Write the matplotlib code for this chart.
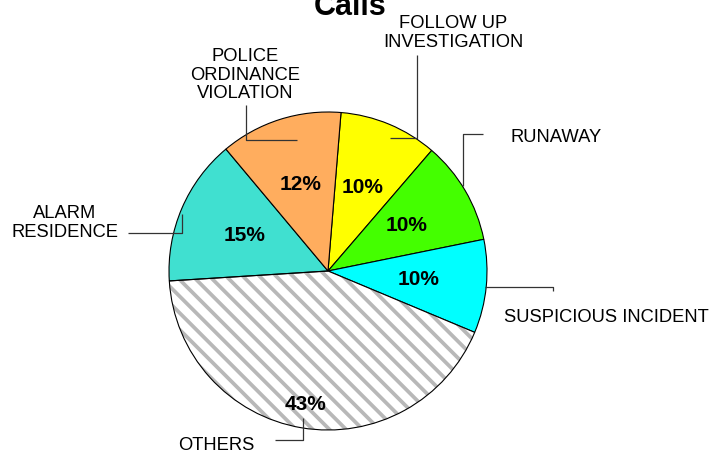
import numpy as np
import matplotlib
matplotlib.use("Agg")
import matplotlib.pyplot as plt
from matplotlib.patches import Wedge

plt.rcParams['font.family'] = ['Liberation Sans', 'DejaVu Sans']
plt.rcParams['hatch.linewidth'] = 2.7

# ---- data ----
categories = ["FOLLOW UP\nINVESTIGATION", "RUNAWAY", "SUSPICIOUS INCIDENT",
              "OTHERS", "ALARM\nRESIDENCE", "POLICE\nORDINANCE\nVIOLATION"]
values = [10.0, 10.5, 9.5, 42.7, 14.9, 12.4]
colors = ["#FFFF00", "#44FF00", "#00FFFF", "#FFFFFF", "#40E0D0", "#FFAD5E"]
title = "Calls"

W, H = 712, 453
fig = plt.figure(figsize=(W / 100, H / 100), dpi=100)
ax = fig.add_axes([0, 0, 1, 1])

def Y(py):
    return H - py

cx, cy, R = 328, Y(271), 159
wedges, texts, autotexts = ax.pie(
    values, colors=colors, startangle=85.3, counterclock=False,
    center=(cx, cy), radius=R, autopct='%.0f%%', pctdistance=0.57,
    wedgeprops=dict(edgecolor='black', linewidth=0.8),
    textprops=dict(fontsize=15, fontweight='bold', color='black'), frame=True)
ax.set_xlim(0, W)
ax.set_ylim(0, H)
ax.set_aspect('equal')
ax.axis('off')

# hatched "others" slice
ow = wedges[3]
ow.set_hatch('\\' * 2)
ow.set_edgecolor('#B8B8B8')
ow.set_linewidth(0)
ax.add_patch(Wedge(ow.center, ow.r, ow.theta1, ow.theta2, fill=False,
                   edgecolor='black', linewidth=0.8, zorder=ow.get_zorder() + 0.1))
mid = np.deg2rad((ow.theta1 + ow.theta2) / 2)
autotexts[3].set_position((cx + 0.85 * R * np.cos(mid), cy + 0.85 * R * np.sin(mid)))
autotexts[3].set_zorder(5)

# category labels with elbow leader lines
lab_fs = 13.2
lc = '#333333'
label_pos = [(453, 33), (556, 137), (606, 317), (216, 445), (65, 223), (245, 75)]
leaders = [
    [(390, 138), (417, 138), (417, 55)],
    [(463, 186), (463, 134), (483, 134)],
    [(485, 287), (553, 287), (553, 291)],
    [(275, 440), (303, 440), (303, 418)],
    [(128, 233), (182, 233), (182, 214)],
    [(246, 105), (246, 140), (297, 140)],
]
for lab, (px, py), pts in zip(categories, label_pos, leaders):
    ax.text(px, Y(py), lab, fontsize=lab_fs, ha='center', va='center',
            linespacing=1.12, zorder=6)
    xs = [p[0] for p in pts]
    ys = [Y(p[1]) for p in pts]
    ax.plot(xs, ys, color=lc, linewidth=0.9, zorder=6, solid_capstyle='butt')

ax.text(350, Y(15), title, fontsize=22, fontweight='bold', ha='center',
        va='baseline', zorder=6)

fig.savefig("out.png", dpi=100)
